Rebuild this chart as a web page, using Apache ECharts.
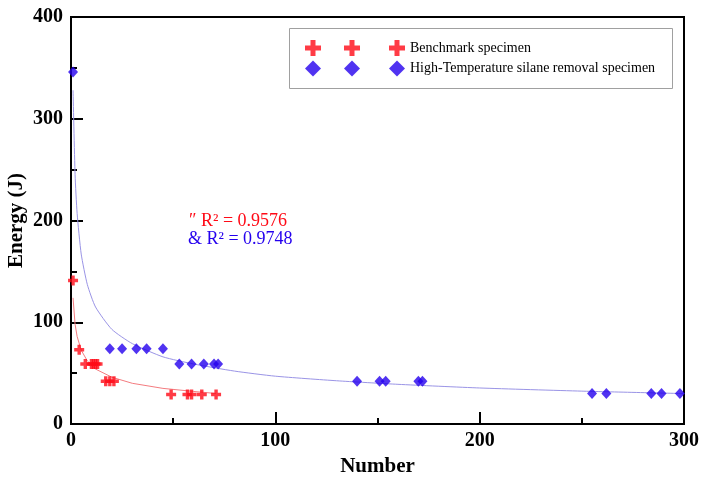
<!DOCTYPE html>
<html>
<head>
<meta charset="utf-8">
<script src="https://cdn.jsdelivr.net/npm/echarts@6/dist/echarts.min.js"></script>
<style>
html,body{margin:0;padding:0;background:#fff;}
#c{width:709px;height:487px;}
</style>
</head>
<body>
<div id="c"></div>
<script>
// ---- data ----
var benchX = [1, 4, 7, 10, 11, 12, 13, 17, 19, 21, 49, 57, 59, 64, 71];
var benchY = [141, 73, 59, 59, 59, 59, 59, 42, 42, 42, 29, 29, 29, 29, 29];
var hiX = [1, 19, 25, 32, 37, 45, 53, 59, 65, 70, 72, 140, 151, 154, 170, 172, 255, 262, 284, 289, 298];
var hiY = [346, 74, 74, 74, 74, 74, 59, 59, 59, 59, 59, 42, 42, 42, 42, 42, 30, 30, 30, 30, 30];
// fitted curves
var benchFitX = [1, 2, 3, 5, 8, 12, 20, 30, 45, 60, 71];
var benchFitY = [124, 98, 86, 72.5, 62, 54, 46, 40, 35, 32, 30];
var hiFitX = [1, 2, 3, 5, 8, 12, 20, 30, 45, 60, 80, 100, 130, 160, 200, 250, 300];
var hiFitY = [328, 245, 207, 167, 137, 115, 93, 79, 66, 59, 52, 47, 42.5, 39, 35.4, 32.3, 29.9];
var seriesNames = ['Benchmark specimen', 'High-Temperature silane removal specimen'];
var r2Labels = ['\u2033 R\u00B2 = 0.9576', '& R\u00B2 = 0.9748'];
var xTicks = {min: 0, max: 300, interval: 100};
var yTicks = {min: 0, max: 400, interval: 100};

function zip(a, b) { return a.map(function (v, i) { return [v, b[i]]; }); }

var RED = '#ff0a16';
var BLUE = '#2400ee';
var FONT = 'Liberation Serif';

function crossPath(cx, s, t) {
  var h = s / 2, w = t / 2;
  return 'M' + (cx - w) + ',0 h' + t + ' v' + (h - w) + ' h' + (h - w) + ' v' + t + ' h' + (-(h - w)) +
    ' v' + (h - w) + ' h' + (-t) + ' v' + (-(h - w)) + ' h' + (-(h - w)) + ' v' + (-t) + ' h' + (h - w) + ' Z';
}
function diamondPath(cx, s) {
  var h = s / 2;
  return 'M' + cx + ',0 L' + (cx + h) + ',' + h + ' L' + cx + ',' + s + ' L' + (cx - h) + ',' + h + ' Z';
}
var legCross = 'path://' + crossPath(8, 16, 5) + ' ' + crossPath(47, 16, 5) + ' ' + crossPath(92, 16, 5);
var legDiamond = 'path://' + diamondPath(8, 16) + ' ' + diamondPath(47, 16) + ' ' + diamondPath(92, 16);
var markCross = 'path://' + crossPath(5, 10, 3.4);

var chart = echarts.init(document.getElementById('c'), null, {renderer: 'canvas'});
var axisCommon = {
  axisLine: {show: true, onZero: false, lineStyle: {color: '#000', width: 2}},
  axisTick: {show: true, inside: true, length: 12, lineStyle: {color: '#000', width: 2}},
  minorTick: {show: true, splitNumber: 2, length: 6, lineStyle: {color: '#000', width: 2}},
  splitLine: {show: false},
  axisLabel: {color: '#000', fontFamily: FONT, fontWeight: 'bold', fontSize: 20},
  nameTextStyle: {color: '#000', fontFamily: FONT, fontWeight: 'bold', fontSize: 21}
};
chart.setOption({
  animation: false,
  backgroundColor: '#fff',
  grid: {left: 71, right: 25, top: 17, bottom: 63, show: true, borderColor: '#000', borderWidth: 2,
         containLabel: false, outerBoundsMode: 'none'},
  xAxis: Object.assign({}, axisCommon, {
    type: 'value', min: xTicks.min, max: xTicks.max, interval: xTicks.interval,
    name: 'Number', nameLocation: 'middle', nameGap: 32, nameMoveOverlap: false,
    axisLabel: Object.assign({}, axisCommon.axisLabel, {margin: 7})
  }),
  yAxis: Object.assign({}, axisCommon, {
    type: 'value', min: yTicks.min, max: yTicks.max, interval: yTicks.interval,
    name: 'Energy (J)', nameLocation: 'middle', nameGap: 44, nameMoveOverlap: false,
    axisLabel: Object.assign({}, axisCommon.axisLabel, {margin: 8})
  }),
  legend: {
    left: 305, top: 40, orient: 'vertical', padding: 0, itemGap: 4.6,
    itemWidth: 100, itemHeight: 16,
    textStyle: {color: '#000', fontFamily: FONT, fontSize: 14},
    data: [{name: seriesNames[0], icon: legCross}, {name: seriesNames[1], icon: legDiamond}]
  },
  graphic: [
    {type: 'rect', left: 289, top: 28, z: -1, shape: {width: 383, height: 60},
     style: {fill: '#fff', stroke: '#a0a0a0', lineWidth: 1}},
    {type: 'text', left: 189, top: 212, style: {text: r2Labels[0], fill: RED, font: '18px "Liberation Serif"'}},
    {type: 'text', left: 188, top: 230, style: {text: r2Labels[1], fill: BLUE, font: '18px "Liberation Serif"'}}
  ],
  series: [
    {name: seriesNames[0] + ' fit', type: 'line', data: zip(benchFitX, benchFitY), showSymbol: false, silent: true,
     lineStyle: {color: '#f47c80', width: 1}, z: 1},
    {name: seriesNames[1] + ' fit', type: 'line', data: zip(hiFitX, hiFitY), showSymbol: false, silent: true,
     smooth: 0.2, lineStyle: {color: '#9a94e6', width: 1}, z: 1},
    {name: seriesNames[0], type: 'scatter', data: zip(benchX, benchY), symbol: markCross, symbolSize: 10,
     itemStyle: {color: RED}, z: 3},
    {name: seriesNames[1], type: 'scatter', data: zip(hiX, hiY), symbol: 'diamond', symbolSize: [10, 11],
     itemStyle: {color: BLUE}, z: 3}
  ]
});
</script>
</body>
</html>
